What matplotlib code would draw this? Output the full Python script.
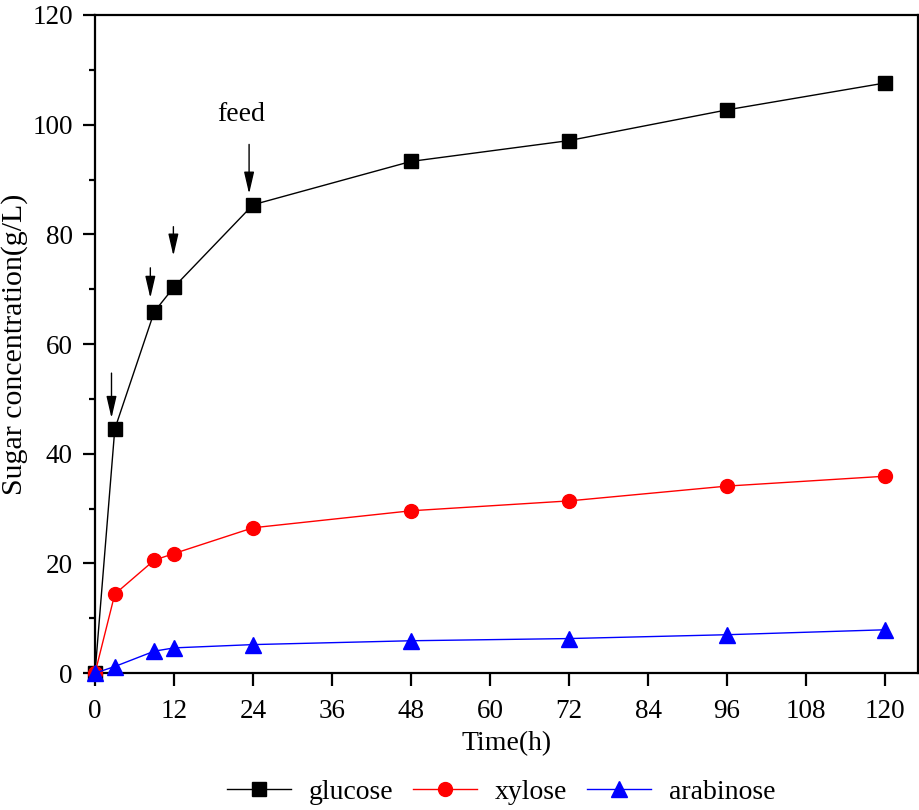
import numpy as np
import matplotlib
matplotlib.use('Agg')
import matplotlib.pyplot as plt
from matplotlib.ticker import MultipleLocator

plt.rcParams['font.family'] = ['Liberation Serif', 'DejaVu Serif']

# 시간 (h)
time_h = [0, 3, 9, 12, 24, 48, 72, 96, 120]
glucose = [0, 44.5, 65.9, 70.4, 85.4, 93.3, 97.1, 102.7, 107.6]
xylose = [0, 14.4, 20.6, 21.8, 26.5, 29.6, 31.4, 34.1, 35.9]
arabinose = [0, 1.2, 4.0, 4.6, 5.2, 5.9, 6.3, 7.0, 7.9]

# feed 화살표 (x, 시작 y, 끝 y)
feed_x = [2.5, 8.4, 11.9, 23.4]
feed_from = [54.7, 73.9, 81.4, 96.4]
feed_to = [46.5, 68.4, 76.1, 87.4]

fig = plt.figure(figsize=(9.2, 8.1), dpi=100)
ax = fig.add_axes([0.1033, 0.169, 0.8945, 0.8125])

ax.plot(time_h, glucose, color='black', lw=1, marker='s', ms=9.5, label='glucose', clip_on=False, zorder=3)
ax.plot(time_h, xylose, color='red', lw=1, marker='o', ms=10, label='xylose', clip_on=False, zorder=3)
ax.plot(time_h, arabinose, color='blue', lw=1, marker='^', ms=11, label='arabinose', clip_on=False, zorder=3)

for x, y0, y1 in zip(feed_x, feed_from, feed_to):
    ax.annotate('', xy=(x, y1), xytext=(x, y0),
                arrowprops=dict(arrowstyle='-|>,head_width=0.22,head_length=0.95',
                                mutation_scale=14, color='black', lw=1,
                                shrinkA=0, shrinkB=0))
ax.text(22.2, 101.8, 'feed', fontsize=20, ha='center', va='center')

ax.set_xlim(0, 125)
ax.set_ylim(0, 120)
ax.xaxis.set_major_locator(MultipleLocator(12))
ax.yaxis.set_major_locator(MultipleLocator(20))
ax.yaxis.set_minor_locator(MultipleLocator(10))

for s in ax.spines.values():
    s.set_linewidth(1.6)
ax.tick_params(axis='both', which='major', direction='out', length=9, width=1.6, labelsize=19.5)
ax.tick_params(axis='x', which='major', pad=10)
ax.tick_params(axis='y', which='major', pad=7)
ax.tick_params(axis='y', which='minor', direction='out', length=4.3, width=1.6)

ax.set_xlabel('Time(h)', fontsize=20, labelpad=5)
ax.set_ylabel('Sugar concentration(g/L)', fontsize=21.5, labelpad=3)

fig.legend(loc='center', bbox_to_anchor=(0.545, 0.022), ncol=3, frameon=False,
           fontsize=20, handlelength=2.3, handletextpad=0.65, columnspacing=0.7)

fig.savefig('out.png', dpi=100)
